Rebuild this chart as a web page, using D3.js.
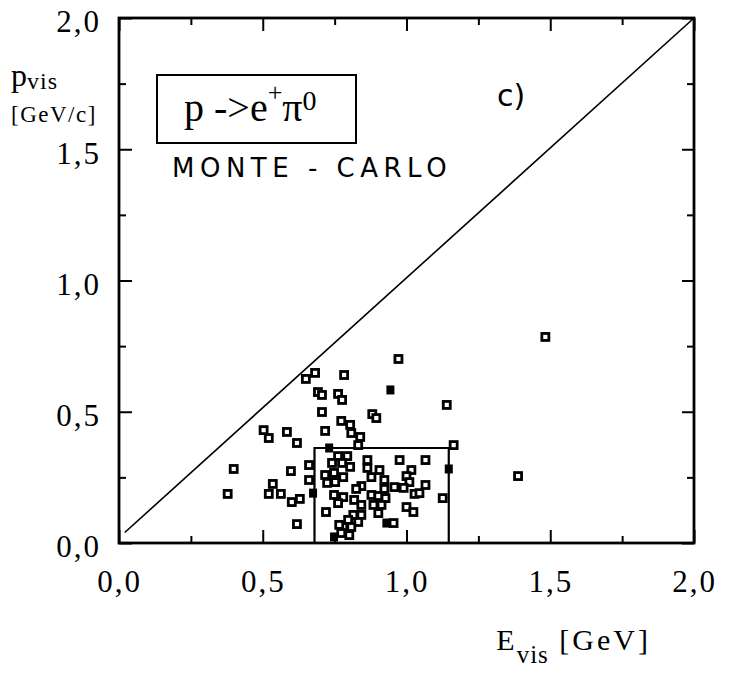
<!DOCTYPE html>
<html>
<head>
<meta charset="utf-8">
<script src="https://cdn.jsdelivr.net/npm/d3@7"></script>
<style>
body { margin: 0; background: #fff; }
text { font-family: "Liberation Serif", "DejaVu Serif", serif; }
</style>
</head>
<body>
<script>
const W = 731, H = 675;

// tick positions
const tickVals = [0, 0.25, 0.5, 0.75, 1, 1.25, 1.5, 1.75, 2];

// Monte-Carlo events, open squares
const evis = [0.378,0.399,0.503,0.521,0.584,0.619,0.598,0.535,0.521,0.563,0.601,0.629,0.619,0.650,0.682,0.692,0.706,0.783,0.762,0.776,
  0.706,0.773,0.804,0.808,0.839,0.832,0.717,0.881,0.895,0.972,1.140,1.164,0.661,0.661,1.483,1.388,
  0.762,0.794,0.741,0.776,0.804,0.717,0.748,0.780,0.724,0.752,0.864,0.864,0.976,1.066,0.906,0.878,1.017,1.000,1.010,0.923,
  0.958,0.923,0.843,0.825,0.878,0.902,0.927,0.990,1.028,1.066,1.045,1.126,0.748,0.780,0.762,0.818,0.843,0.885,0.913,0.902,
  0.815,0.843,0.797,0.832,0.720,1.000,1.024,0.955,0.780,0.808,0.801,0.773,0.766];
const pvis = [0.187,0.282,0.430,0.400,0.423,0.381,0.274,0.225,0.187,0.187,0.156,0.168,0.072,0.625,0.648,0.575,0.564,0.640,0.568,0.545,
  0.499,0.465,0.450,0.419,0.404,0.373,0.427,0.491,0.476,0.701,0.526,0.373,0.297,0.240,0.785,0.255,
  0.331,0.331,0.305,0.305,0.290,0.259,0.267,0.251,0.229,0.232,0.316,0.286,0.316,0.316,0.278,0.251,0.278,0.255,0.232,0.240,
  0.213,0.206,0.217,0.206,0.183,0.179,0.171,0.210,0.187,0.221,0.190,0.171,0.183,0.175,0.152,0.164,0.145,0.145,0.145,0.114,
  0.107,0.107,0.088,0.080,0.118,0.137,0.118,0.076,0.061,0.061,0.030,0.038,0.069];

// blotted (filled) marks
const evisSolid = [0.944, 0.675, 0.731, 1.147, 0.930, 0.748];
const pvisSolid = [0.583, 0.190, 0.362, 0.282, 0.076, 0.023];

// cut region and kinematic limit line
const cutE = [0.68, 1.147];
const cutP = 0.362;
const diagE = [0.02, 2.0];
const diagP = [0.04, 2.0];

const x = d3.scaleLinear().domain([0, 2]).range([119, 694]);
const y = d3.scaleLinear().domain([0, 2]).range([543, 18]);

const fmt = d => d3.format(".1f")(d).replace(".", ",");
const isMajor = d => Math.abs(d * 2 - Math.round(d * 2)) < 1e-6;
const serif = "Liberation Serif, DejaVu Serif, serif";

const svg = d3.select("body").append("svg")
  .attr("width", W)
  .attr("height", H);

function styleAxis(g) {
  g.attr("font-family", serif).attr("font-size", 31);
  g.select(".domain").remove();
  g.selectAll(".tick line").attr("stroke", "#000").attr("stroke-width", 2);
  g.selectAll(".tick text")
    .attr("fill", "#000")
    .style("letter-spacing", "2px");
}

// bottom
svg.append("g")
  .attr("transform", "translate(0," + y(0) + ")")
  .call(d3.axisBottom(x).tickValues(tickVals).tickSize(-13).tickPadding(27)
    .tickFormat(d => isMajor(d) ? fmt(d) : ""))
  .call(styleAxis)
  .call(g => g.selectAll(".tick line").attr("y2", d => isMajor(d) ? -13 : -7));

// top
svg.append("g")
  .attr("transform", "translate(0," + y(2) + ")")
  .call(d3.axisTop(x).tickValues(tickVals).tickSize(-13).tickFormat(""))
  .call(styleAxis)
  .call(g => g.selectAll(".tick line").attr("y2", d => isMajor(d) ? 13 : 7));

// left
svg.append("g")
  .attr("transform", "translate(" + x(0) + ",0)")
  .call(d3.axisLeft(y).tickValues(tickVals).tickSize(-13).tickPadding(18)
    .tickFormat(d => isMajor(d) ? fmt(d) : ""))
  .call(styleAxis)
  .call(g => g.selectAll(".tick line").attr("x2", d => isMajor(d) ? 13 : 7))
  .call(g => g.selectAll(".tick text").attr("dy", "0.45em"));

// right
svg.append("g")
  .attr("transform", "translate(" + x(2) + ",0)")
  .call(d3.axisRight(y).tickValues(tickVals).tickSize(-13).tickFormat(""))
  .call(styleAxis)
  .call(g => g.selectAll(".tick line").attr("x2", d => isMajor(d) ? -12 : -7));

// frame
svg.append("rect")
  .attr("x", x(0)).attr("y", y(2))
  .attr("width", x(2) - x(0)).attr("height", y(0) - y(2))
  .attr("fill", "none").attr("stroke", "#000").attr("stroke-width", 2.8);

// diagonal
svg.append("line")
  .attr("x1", x(diagE[0])).attr("y1", y(diagP[0]))
  .attr("x2", x(diagE[1])).attr("y2", y(diagP[1]))
  .attr("stroke", "#000").attr("stroke-width", 1.6);

// cut box
svg.append("path")
  .attr("d", d3.line()([[x(cutE[0]), y(0)], [x(cutE[0]), y(cutP)], [x(cutE[1]), y(cutP)], [x(cutE[1]), y(0)]]))
  .attr("fill", "none").attr("stroke", "#000").attr("stroke-width", 2.2);

// events
const pts = evis.map((e, i) => [e, pvis[i]]);
svg.append("g").selectAll("rect")
  .data(pts).join("rect")
  .attr("x", d => x(d[0]) - 3.5)
  .attr("y", d => y(d[1]) - 3.5)
  .attr("width", 7).attr("height", 7)
  .attr("fill", "#fff").attr("stroke", "#000").attr("stroke-width", 2.8);

const solid = evisSolid.map((e, i) => [e, pvisSolid[i]]);
svg.append("g").selectAll("rect")
  .data(solid).join("rect")
  .attr("x", d => x(d[0]) - 4)
  .attr("y", d => y(d[1]) - 4.5)
  .attr("width", 8).attr("height", 9)
  .attr("fill", "#000");

// axis titles
const yt = svg.append("text").attr("x", 11).attr("y", 86).attr("fill", "#000");
yt.append("tspan").attr("font-size", 32).text("p");
yt.append("tspan").attr("dy", 3).attr("font-size", 24).style("letter-spacing", "1px").text("vis");

svg.append("text").attr("x", 11).attr("y", 122)
  .attr("font-size", 23).style("letter-spacing", "1.5px")
  .text("[GeV/c]");

const xt = svg.append("text").attr("x", 651).attr("y", 650)
  .attr("text-anchor", "end").attr("fill", "#000");
xt.append("tspan").attr("font-size", 30).style("letter-spacing", "2px").text("E");
xt.append("tspan").attr("dy", 13).attr("font-size", 25).style("letter-spacing", "1px").text("vis");
xt.append("tspan").attr("dy", -13).attr("font-size", 30).style("letter-spacing", "3px").text(" [GeV]");

// inset label
svg.append("rect")
  .attr("x", 157).attr("y", 75).attr("width", 199).attr("height", 68)
  .attr("fill", "none").attr("stroke", "#000").attr("stroke-width", 2);

const it = svg.append("text").attr("x", 184).attr("y", 121).attr("fill", "#000");
it.append("tspan").attr("font-size", 40).text("p ->e");
it.append("tspan").attr("dy", -20).attr("font-size", 26).text("+");
it.append("tspan").attr("dy", 20).attr("font-size", 40).text("π");
it.append("tspan").attr("dy", -11).attr("font-size", 28).text("0");

svg.append("text").attr("x", 497).attr("y", 106)
  .style("font-family", "DejaVu Sans, sans-serif").attr("font-size", 30)
  .text("c)");

svg.append("text").attr("x", 172).attr("y", 177)
  .style("font-family", "DejaVu Sans, sans-serif").attr("font-size", 26)
  .style("letter-spacing", "5.5px")
  .text("MONTE - CARLO");
</script>
</body>
</html>
